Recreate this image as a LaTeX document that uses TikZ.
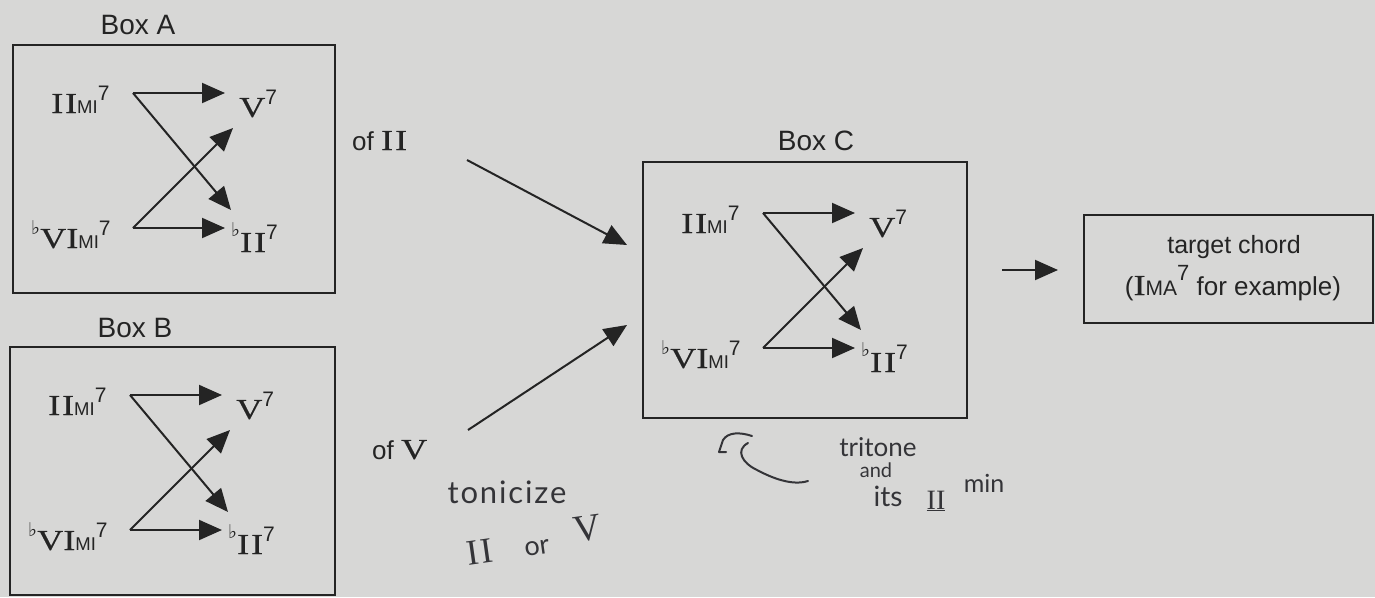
\documentclass[tikz,border=0pt]{standalone}
\usepackage{graphicx}
\usepackage{fontspec}
\setmainfont{Liberation Serif}
\setsansfont{Liberation Sans}
\newfontfamily\rnf[FakeBold=0.25]{Liberation Serif}
\newfontfamily\symf{DejaVu Sans}
\newfontfamily\handf{Lato}
\usetikzlibrary{arrows.meta}
\definecolor{bg}{RGB}{215,215,214}
\definecolor{ink}{RGB}{36,36,36}
\definecolor{pen}{RGB}{52,52,56}
\newcommand{\rn}[1]{{\rnf\fontsize{29}{29}\selectfont\scalebox{1.25}[1]{#1}}}
\newcommand{\RII}{\rn{I\kern1.5pt I}}
\newcommand{\qual}[1]{{\sffamily\fontsize{18.5}{18.5}\selectfont #1}}
\newcommand{\sev}{\raisebox{13pt}{\sffamily\fontsize{21}{21}\selectfont 7}}
\newcommand{\flt}[1]{\raisebox{#1}{\symf\fontsize{19}{19}\selectfont ♭}}
\tikzset{
  lab/.style={inner sep=0pt, anchor=base west, text=ink},
  arr/.style={draw=ink, line width=2pt, -{Triangle[length=23pt,width=20pt]}},
  box/.style={draw=ink, line width=2.5pt},
  boxlab/.style={text=ink, font=\sffamily\fontsize{28}{28}\selectfont, inner sep=0pt},
  hand/.style={text=pen, inner sep=0pt}
}
\newcommand{\chordset}[2]{%
  \begin{scope}[shift={#2}, name prefix=#1-]
    \node[lab] (ii) at (51,113) {\RII\qual{MI}\sev};
    \node[lab] (v) at (239,117) {\rn{V}\sev};
    \node[lab] (bvi) at (31,248) {\flt{14pt}\rn{VI}\qual{MI}\sev};
    \node[lab] (bii) at (231,252) {\flt{16pt}\RII\sev};
    \coordinate (s1) at (133,93);
    \coordinate (t1) at (225,93);
    \coordinate (t2) at (231,210);
    \coordinate (s2) at (133,228);
    \coordinate (t3) at (225,228);
    \coordinate (t4) at (233,128);
    \draw[arr] (s1) -- (t1);
    \draw[arr] (s1) -- (t2);
    \draw[arr] (s2) -- (t3);
    \draw[arr] (s2) -- (t4);
  \end{scope}}
\begin{document}
\begin{tikzpicture}[x=1pt, y=-1pt]
\fill[bg] (0,0) rectangle (1375,597);
\useasboundingbox (0,0) rectangle (1375,597);
% boxes
\node[box, minimum width=322pt, minimum height=248pt] (boxA) at (174,169) {};
\node[box, minimum width=325pt, minimum height=248pt] (boxB) at (172.5,471) {};
\node[box, minimum width=324pt, minimum height=256pt] (boxC) at (805,290) {};
\node[box, minimum width=289pt, minimum height=108pt] (tgt) at (1228.5,269) {};
\node[boxlab] (labA) at (138,25) {Box A};
\node[boxlab] (labB) at (135,328) {Box B};
\node[boxlab] (labC) at (816,141) {Box C};
\chordset{A}{(0,0)}
\chordset{B}{(-3,302)}
\chordset{C}{(630,120)}
% of II / of V
\node[lab] (ofII) at (352,150) {{\sffamily\fontsize{26}{26}\selectfont of }\RII};
\node[lab] (ofV) at (372,459) {{\sffamily\fontsize{26}{26}\selectfont of }\rn{V}};
\coordinate (a1) at (467,160);
\coordinate (a1t) at (627,245);
\coordinate (a2) at (468,430);
\coordinate (a2t) at (627,325);
\draw[arr] (a1) -- (a1t);
\draw[arr] (a2) -- (a2t);
% target
\coordinate (c1) at (1002,270);
\coordinate (c1t) at (1058,270);
\draw[arr] (c1) -- (c1t);
\node[inner sep=0pt, anchor=base, text=ink, font=\sffamily\fontsize{25}{25}\selectfont] (tc1) at (1234,253) {target chord};
\node[inner sep=0pt, anchor=base, text=ink] (tc2) at (1233,295) {{\sffamily\fontsize{26}{26}\selectfont(}\rn{I}{\sffamily\fontsize{21}{21}\selectfont MA}\raisebox{15pt}{\sffamily\fontsize{22}{22}\selectfont 7}{\sffamily\fontsize{26}{26}\selectfont\ for example)}};
% handwriting
\node[hand, font=\handf\fontsize{31}{31}\selectfont\addfontfeature{LetterSpace=6}] (ton) at (507,492) {tonicize};
\node[hand, font=\rmfamily\fontsize{36}{36}\selectfont, rotate=8] (h2) at (480,552) {I\kern2pt I};
\node[hand, font=\handf\fontsize{27}{27}\selectfont, rotate=8] (hor) at (537,548) {or};
\node[hand, font=\rmfamily\fontsize{38}{38}\selectfont, rotate=8] (h5) at (587,529) {V};
\draw[pen, line width=2pt, line cap=round, line join=round] (752,436) .. controls (740,432) and (728,432) .. (723,440) -- (719,452) -- (726,452);
\draw[pen, line width=2pt, line cap=round] (748,443) .. controls (735,450) and (742,463) .. (757,470) .. controls (772,478) and (792,486) .. (808,481);
\node[hand, font=\handf\fontsize{26}{26}\selectfont] (tri) at (878,447) {tritone};
\node[hand, font=\handf\fontsize{20}{20}\selectfont] (and) at (876,470) {and};
\node[hand, font=\handf\fontsize{28}{28}\selectfont] (its) at (888,496) {its};
\node[hand, font=\rmfamily\fontsize{28}{28}\selectfont] (iiu) at (936,501) {\underline{II}};
\node[hand, font=\handf\fontsize{25}{25}\selectfont] (min) at (984,483) {min};
\end{tikzpicture}
\end{document}
